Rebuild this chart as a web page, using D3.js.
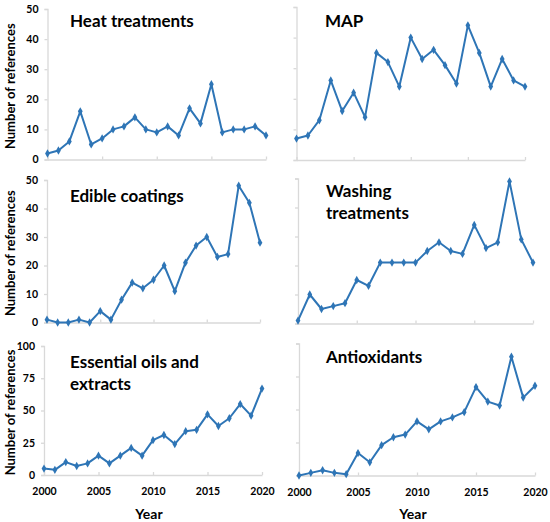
<!DOCTYPE html>
<html>
  <head>
    <script src="https://d3js.org/d3.v7.min.js"></script>
    <style>
      html,
      body {
        margin: 0;
        padding: 0;
        background: #fff;
      }
      svg text {
        font-family: Lato, "Open Sans", sans-serif;
        font-weight: bold;
      }
    </style>
  </head>
  <body>
    <div id="chart"></div>
    <script>
      const years = [
        2000, 2001, 2002, 2003, 2004, 2005, 2006, 2007, 2008, 2009, 2010,
        2011, 2012, 2013, 2014, 2015, 2016, 2017, 2018, 2019, 2020,
      ];
      const yearTicks = [2000, 2005, 2010, 2015, 2020];

      const heatTreatments = [
        2, 3, 6, 16, 5, 7, 10, 11, 14, 10, 9, 11, 8, 17, 12, 25, 9, 10, 10, 11, 8,
      ];
      const map = [
        7, 8, 13, 26, 16, 22, 14, 35, 32, 24, 40, 33, 36, 31, 25, 44, 35, 24, 33,
        26, 24,
      ];
      const edibleCoatings = [
        1, 0, 0, 1, 0, 4, 1, 8, 14, 12, 15, 20, 11, 21, 27, 30, 23, 24, 48, 42, 28,
      ];
      const washingTreatments = [
        1, 10, 5, 6, 7, 15, 13, 21, 21, 21, 21, 25, 28, 25, 24, 34, 26, 28, 49, 29,
        21,
      ];
      const essentialOils = [
        5, 4, 10, 7, 9, 15, 9, 15, 21, 15, 27, 31, 24, 34, 35, 47, 38, 44, 55, 46,
        67,
      ];
      const antioxidants = [
        0, 2, 4, 2, 1, 17, 10, 23, 29, 31, 41, 35, 41, 44, 48, 67, 56, 53, 90, 59,
        68,
      ];

      const ticks50 = [0, 10, 20, 30, 40, 50];
      const ticks100 = [0, 25, 50, 75, 100];

      const width = 550;
      const height = 522;
      const lineColor = "#2e75b6";
      const axisColor = "#d9d9d9";

      // plot boxes: x0/x1 = 2000/2020 position, y0 = zero line, y1 = top value
      const panels = [
        { title: ["Heat treatments"], values: heatTreatments, yTicks: ticks50,
          x0: 47.5, x1: 266, y0: 159.5, y1: 9, labels: true, tx: 70, ty: 27 },
        { title: ["MAP"], values: map, yTicks: ticks50,
          x0: 296.5, x1: 525, y0: 160, y1: 7, labels: false, tx: 325, ty: 27 },
        { title: ["Edible coatings"], values: edibleCoatings, yTicks: ticks50,
          x0: 47, x1: 260, y0: 322.5, y1: 180, labels: true, tx: 70, ty: 202 },
        { title: ["Washing", "treatments"], values: washingTreatments, yTicks: ticks50,
          x0: 298, x1: 533, y0: 323.5, y1: 178.5, labels: false, tx: 326, ty: 197 },
        { title: ["Essential oils and", "extracts"], values: essentialOils, yTicks: ticks100,
          x0: 44, x1: 262, y0: 475, y1: 346, labels: true, tx: 70, ty: 368, xLabels: true },
        { title: ["Antioxidants"], values: antioxidants, yTicks: ticks100,
          x0: 299, x1: 535, y0: 475.5, y1: 343.5, labels: false, tx: 326, ty: 363, xLabels: true },
      ];

      const svg = d3
        .select("#chart")
        .append("svg")
        .attr("width", width)
        .attr("height", height);

      panels.forEach((p) => {
        const x = d3.scaleLinear().domain([2000, 2020]).range([p.x0, p.x1]);
        const yMax = p.yTicks[p.yTicks.length - 1];
        const y = d3.scaleLinear().domain([0, yMax]).range([p.y0, p.y1]);

        const g = svg.append("g");

        //y axis
        const yAxis = g
          .append("g")
          .attr("transform", `translate(${p.x0},0)`)
          .call(
            d3
              .axisLeft(y)
              .tickValues(p.yTicks)
              .tickSize(3)
              .tickPadding(6)
              .tickFormat(p.labels ? d3.format("d") : "")
          );

        //x axis
        const xAxis = g
          .append("g")
          .attr("transform", `translate(0,${p.y0})`)
          .call(
            d3
              .axisBottom(x)
              .tickValues(yearTicks)
              .tickSizeInner(-3)
              .tickSizeOuter(0)
              .tickPadding(13)
              .tickFormat(p.xLabels ? d3.format("d") : "")
          );

        [yAxis, xAxis].forEach((a) => {
          a.select(".domain").attr("stroke", axisColor).attr("stroke-width", 1.3);
          a.selectAll(".tick line").attr("stroke", axisColor).attr("stroke-width", 1.3);
          a.selectAll(".tick text")
            .attr("fill", "#000")
            .style("font-size", "10.5px");
        });

        //line
        g.append("path")
          .datum(p.values)
          .attr("fill", "none")
          .attr("stroke", lineColor)
          .attr("stroke-width", 2)
          .attr("stroke-linejoin", "round")
          .attr("d", d3.line().x((d, i) => x(years[i])).y((d) => y(d)));

        //markers
        g.selectAll(".marker")
          .data(p.values)
          .enter()
          .append("path")
          .attr("class", "marker")
          .attr("transform", (d, i) => `translate(${x(years[i])},${y(d)})`)
          .attr("d", d3.symbol().type(d3.symbolDiamond).size(20))
          .attr("fill", lineColor);

        //title
        const title = g
          .append("text")
          .attr("x", p.tx)
          .attr("y", p.ty)
          .style("font-size", "17px")
          .attr("fill", "#000");
        p.title.forEach((t, i) => {
          title
            .append("tspan")
            .attr("x", p.tx)
            .attr("dy", i === 0 ? 0 : 22)
            .text(t);
        });

        //y title
        if (p.labels) {
          svg
            .append("text")
            .attr("transform", `translate(14.5,${(p.y0 + p.y1) / 2 + 2}) rotate(-90)`)
            .attr("text-anchor", "middle")
            .style("font-size", "13px")
            .text("Number of references");
        }

        if (p.xLabels) {
          svg
            .append("text")
            .attr("x", (p.x0 + p.x1) / 2 - 4)
            .attr("y", 519)
            .attr("text-anchor", "middle")
            .style("font-size", "14px")
            .text("Year");
        }
      });
    </script>
  </body>
</html>
